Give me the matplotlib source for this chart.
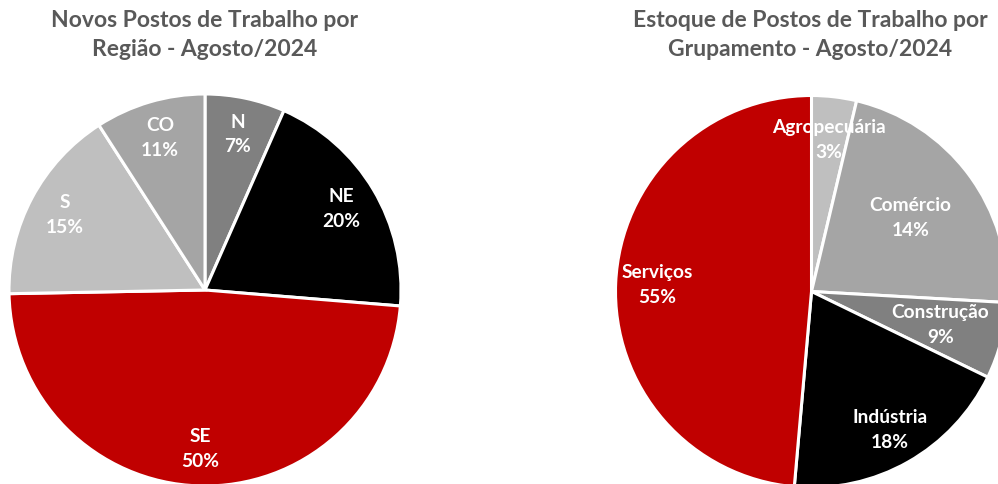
import matplotlib.pyplot as plt
import numpy as np

# shares, labels as printed on the chart
regions = ['N', 'NE', 'SE', 'S', 'CO']
region_share = [6.6, 19.7, 48.4, 16.2, 9.1]
region_pct = ['7%', '20%', '50%', '15%', '11%']

groups = ['Agropecuária', 'Comércio', 'Construção', 'Indústria', 'Serviços']
group_share = [3.7, 22.2, 6.3, 19.2, 48.6]
group_pct = ['3%', '14%', '9%', '18%', '55%']

region_colors = ['#808080', '#000000', '#C00000', '#BFBFBF', '#A5A5A5']
group_colors = ['#BFBFBF', '#A5A5A5', '#808080', '#000000', '#C00000']

plt.rcParams['font.family'] = ['Lato', 'DejaVu Sans']

W, H = 998, 484
fig = plt.figure(figsize=(W / 100, H / 100), dpi=100)
R = 196


def pie(cx, cy, shares, colors, names, pcts, dists):
    ax = fig.add_axes([(cx - R) / W, (H - cy - R) / H, 2 * R / W, 2 * R / H])
    wedges, _ = ax.pie(shares, colors=colors, startangle=90, counterclock=False,
                       radius=1, wedgeprops=dict(edgecolor='white', linewidth=2.2))
    for w, n, p, d in zip(wedges, names, pcts, dists):
        mid = np.deg2rad((w.theta1 + w.theta2) / 2)
        ax.text(d * np.cos(mid), d * np.sin(mid), f'{n}\n{p}', ha='center', va='center',
                color='white', fontsize=13.8, fontweight='bold', linespacing=1.55)
    ax.set_xlim(-1, 1)
    ax.set_ylim(-1, 1)
    ax.axis('off')
    return ax


pie(205, 290, region_share, region_colors, regions, region_pct, [0.81] * 5)
pie(811.5, 291.5, group_share, group_colors, groups, group_pct,
    [0.78, 0.63, 0.68, 0.81, 0.79])

fig.text(205 / W, 1 - 35 / H, 'Novos Postos de Trabalho por\nRegião - Agosto/2024',
         ha='center', va='center', color='#595959', fontsize=16.5, fontweight='bold',
         linespacing=1.45)
fig.text(810.5 / W, 1 - 35 / H, 'Estoque de Postos de Trabalho por\nGrupamento - Agosto/2024',
         ha='center', va='center', color='#595959', fontsize=16.5, fontweight='bold',
         linespacing=1.45)

fig.savefig('out.png', dpi=100)
